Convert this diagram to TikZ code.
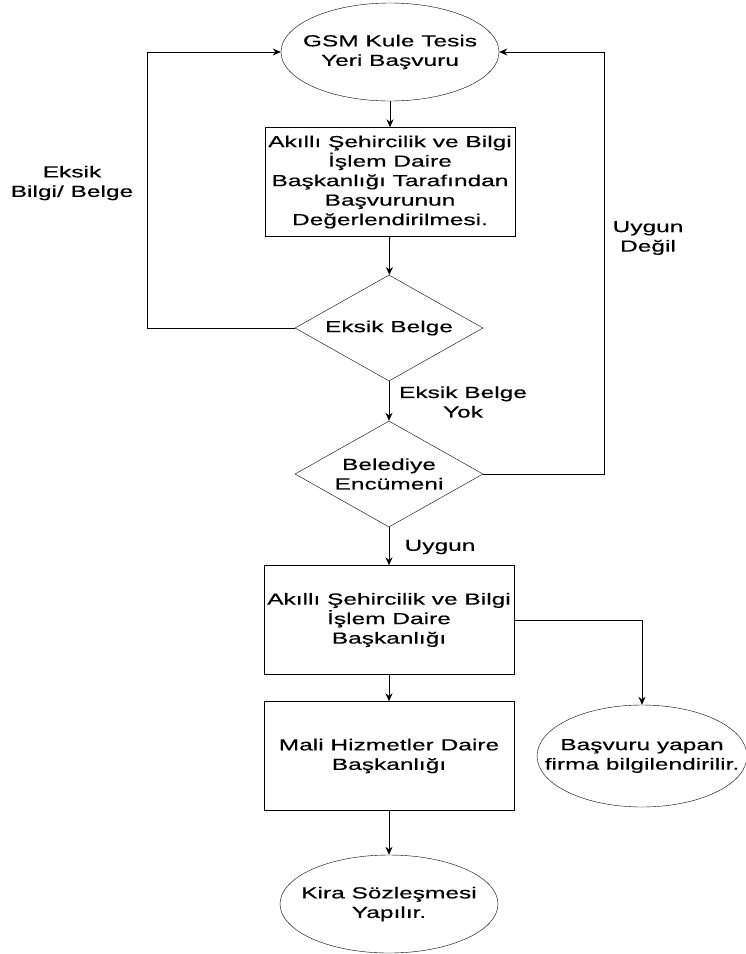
\documentclass[tikz,border=0pt]{standalone}
\usepackage{fontspec}
\setmainfont[FakeStretch=1.53,FakeBold=0.4]{Liberation Sans}
\usepackage{tikz}
\usetikzlibrary{shapes.geometric,arrows.meta}

\begin{document}
\begin{tikzpicture}[x=1pt,y=-1pt,
    every node/.style={font=\fontsize{16}{19.5}\selectfont,align=center},
    kutu/.style={draw,rectangle,minimum width=250pt,minimum height=109pt,inner sep=0pt},
    elips/.style={draw,ellipse,minimum width=218pt,minimum height=98pt,inner xsep=-20pt,inner ysep=0pt},
    karar/.style={draw,diamond,aspect=1.77,minimum width=188pt,minimum height=106pt,inner sep=0pt},
    ok/.style={line width=0.8pt,-{Stealth[length=8pt,width=7pt]}},
    etiket/.style={inner sep=0pt}]
  \useasboundingbox (0,0) rectangle (745,954);

  \path (390,52) node[elips] (nbasvuru) {GSM Kule Tesis\\Yeri Başvuru};
  \path (390,182) node[kutu] (ndeger) {Akıllı Şehircilik ve Bilgi\\İşlem Daire\\Başkanlığı Tarafından\\Başvurunun\\Değerlendirilmesi.};
  \path (389,328) node[karar] (neksik) {Eksik Belge};
  \path (389,474) node[karar] (nencumen) {Belediye\\Encümeni};
  \path (389,620) node[kutu] (nakilli) {Akıllı Şehircilik ve Bilgi\\İşlem Daire\\Başkanlığı};
  \path (389,756) node[kutu] (nmali) {Mali Hizmetler Daire\\Başkanlığı};
  \path (389,904) node[elips] (nkira) {Kira Sözleşmesi\\Yapılır.};
  \path (642,756) node[elips,minimum width=210pt,minimum height=102pt,inner xsep=-26pt] (nfirma) {Başvuru yapan\\firma bilgilendirilir.};

  \coordinate (nsol) at (147,52);
  \coordinate (nsag) at (604,52);

  \draw[ok] (nbasvuru) -- (ndeger);
  \draw[ok] (ndeger) -- (neksik);
  \draw[ok] (neksik) -- (nencumen);
  \draw[ok] (nencumen) -- (nakilli);
  \draw[ok] (nakilli) -- (nmali);
  \draw[ok] (nmali) -- (nkira);
  \draw[ok] (neksik.west) -| (nsol) -- (nbasvuru.west);
  \draw[ok] (nencumen.east) -| (nsag) -- (nbasvuru.east);
  \draw[ok] (nakilli.east) -| (nfirma.north);

  \path (72,183) node[etiket] (leksik) {Eksik\\Bilgi/ Belge};
  \path (648,238) node[etiket] (ldegil) {Uygun\\Değil};
  \path (463,402) node[etiket] (lyok) {Eksik Belge\\Yok};
  \path (440,547) node[etiket] (luygun) {Uygun};

\end{tikzpicture}
\end{document}
